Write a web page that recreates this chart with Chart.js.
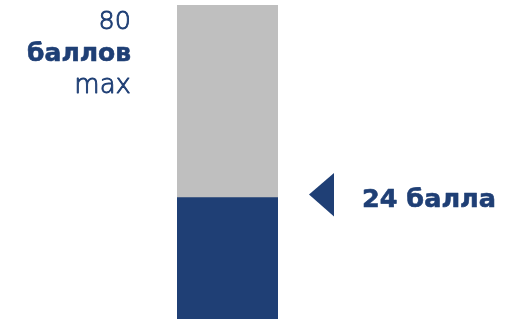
<!DOCTYPE html>
<html>
<head>
<meta charset="utf-8">
<script src="https://cdn.jsdelivr.net/npm/chart.js@4.4.0/dist/chart.umd.min.js"></script>
<style>
  html, body { margin: 0; padding: 0; background: #fff; }
  #wrap { width: 515px; height: 319px; }
</style>
</head>
<body>
<div id="wrap"><canvas id="myChart"></canvas></div>
<script>
// Data
const categories = ['Баллы'];
const scoreValues = [24];   // набранные баллы
const maxValues = [80];     // максимум
const axisMin = -11.3;      // bar is drawn from below the visible area
const maxLabel = ['80', 'баллов', 'max'];
const scoreLabel = '24 балла';

const blue = '#1f3f75';
const gray = '#bfbfbf';

document.addEventListener('DOMContentLoaded', function () {
    const ctx = document.getElementById('myChart').getContext('2d');

    // text with a thin outline to get weights between the installed ones
    function drawText(c, text, x, y, font, outline) {
        c.font = font;
        c.fillText(text, x, y);
        if (outline) {
            c.lineWidth = outline;
            c.strokeText(text, x, y);
        }
    }

    // Draws the "80 баллов max" caption and the pointer with "24 балла"
    const labelsPlugin = {
        id: 'labels',
        afterDatasetsDraw(chart) {
            const c = chart.ctx;
            const area = chart.chartArea;
            const y = chart.scales.y;
            c.save();
            c.fillStyle = blue;
            c.strokeStyle = blue;
            c.lineJoin = 'round';
            c.textAlign = 'right';
            c.textBaseline = 'alphabetic';
            const rx = area.left - 46;
            const top = y.getPixelForValue(maxValues[0]);
            drawText(c, maxLabel[0], rx, top + 24, '200 25.5px "DejaVu Sans", sans-serif', 0.9);
            drawText(c, maxLabel[1], rx, top + 56, 'bold 25px "DejaVu Sans", sans-serif', 0.6);
            drawText(c, maxLabel[2], rx, top + 88, '200 26px "DejaVu Sans", sans-serif', 0.9);

            // pointer triangle
            const py = y.getPixelForValue(scoreValues[0]) - 3;
            const tx = area.right + 31;
            c.beginPath();
            c.moveTo(tx, py);
            c.lineTo(tx + 25, py - 21.5);
            c.lineTo(tx + 25, py + 22);
            c.closePath();
            c.fill();

            c.textAlign = 'left';
            drawText(c, scoreLabel, area.right + 84, py + 12, 'bold 25.5px "DejaVu Sans", sans-serif', 0.6);
            c.restore();
        }
    };

    const config = {
        type: 'bar',
        data: {
            labels: categories,
            datasets: [{
                label: 'Набрано',
                data: scoreValues,
                backgroundColor: blue,
                base: axisMin,
                grouped: false,
                barPercentage: 1,
                categoryPercentage: 1
            }, {
                label: 'Максимум',
                data: maxValues,
                backgroundColor: gray,
                base: axisMin,
                grouped: false,
                barPercentage: 1,
                categoryPercentage: 1
            }]
        },
        options: {
            responsive: true,
            maintainAspectRatio: false,
            animation: false,
            layout: {
                padding: { left: 177, right: 237, top: 5, bottom: 0 }
            },
            scales: {
                x: { display: false },
                y: { display: false, min: axisMin, max: 80 }
            },
            plugins: {
                legend: { display: false },
                tooltip: { enabled: false }
            }
        },
        plugins: [labelsPlugin]
    };

    const myChart = new Chart(ctx, config);
});
</script>
</body>
</html>
